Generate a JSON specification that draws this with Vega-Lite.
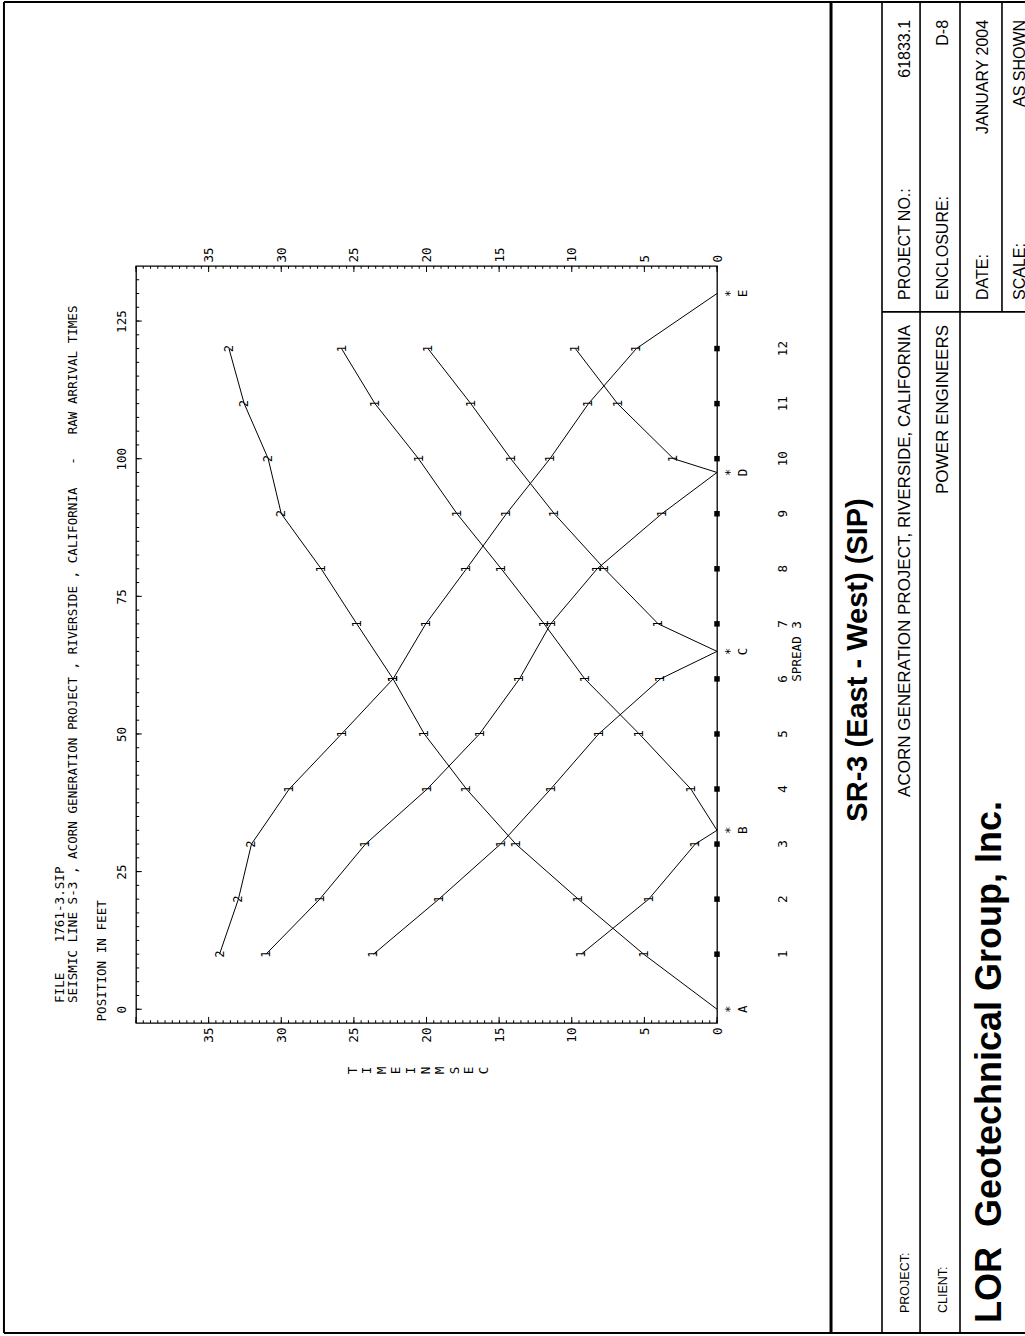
{
"$schema":"https://vega.github.io/schema/vega-lite/v6.json",
"width":581,"height":757,
"autosize":{"type":"none"},
"padding":{"left":136,"top":266,"right":308,"bottom":313},
"background":"white",
"config":{"view":{"stroke":"#000","strokeWidth":1.3}},
"data":{"values":[{}]},
"datasets":{
"arr":[
{"s":"A","p":0,"t":0,"m":""},{"s":"A","p":10,"t":5.05,"m":"1"},{"s":"A","p":20,"t":9.55,"m":"1"},{"s":"A","p":30,"t":13.85,"m":"1"},{"s":"A","p":40,"t":17.25,"m":"1"},{"s":"A","p":50,"t":20.15,"m":"1"},{"s":"A","p":60,"t":22.3,"m":"1"},{"s":"A","p":70,"t":24.8,"m":"1"},{"s":"A","p":80,"t":27.25,"m":"1"},{"s":"A","p":90,"t":30.0,"m":"2"},{"s":"A","p":100,"t":30.9,"m":"2"},{"s":"A","p":110,"t":32.55,"m":"2"},{"s":"A","p":120,"t":33.6,"m":"2"},
{"s":"B","p":10,"t":9.35,"m":"1"},{"s":"B","p":20,"t":4.7,"m":"1"},{"s":"B","p":30,"t":1.5,"m":"1"},{"s":"B","p":32.5,"t":0,"m":""},{"s":"B","p":40,"t":1.8,"m":"1"},{"s":"B","p":50,"t":5.35,"m":"1"},{"s":"B","p":60,"t":9.1,"m":"1"},{"s":"B","p":70,"t":11.9,"m":"1"},{"s":"B","p":80,"t":14.85,"m":"1"},{"s":"B","p":90,"t":17.9,"m":"1"},{"s":"B","p":100,"t":20.55,"m":"1"},{"s":"B","p":110,"t":23.55,"m":"1"},{"s":"B","p":120,"t":25.85,"m":"1"},
{"s":"C","p":10,"t":23.65,"m":"1"},{"s":"C","p":20,"t":19.15,"m":"1"},{"s":"C","p":30,"t":14.9,"m":"1"},{"s":"C","p":40,"t":11.45,"m":"1"},{"s":"C","p":50,"t":8.15,"m":"1"},{"s":"C","p":60,"t":3.9,"m":"1"},{"s":"C","p":65,"t":0,"m":""},{"s":"C","p":70,"t":4.05,"m":"1"},{"s":"C","p":80,"t":7.75,"m":"1"},{"s":"C","p":90,"t":11.2,"m":"1"},{"s":"C","p":100,"t":14.2,"m":"1"},{"s":"C","p":110,"t":16.95,"m":"1"},{"s":"C","p":120,"t":19.9,"m":"1"},
{"s":"D","p":10,"t":31.05,"m":"1"},{"s":"D","p":20,"t":27.35,"m":"1"},{"s":"D","p":30,"t":24.2,"m":"1"},{"s":"D","p":40,"t":19.95,"m":"1"},{"s":"D","p":50,"t":16.35,"m":"1"},{"s":"D","p":60,"t":13.6,"m":"1"},{"s":"D","p":70,"t":11.45,"m":"1"},{"s":"D","p":80,"t":8.25,"m":"1"},{"s":"D","p":90,"t":3.8,"m":"1"},{"s":"D","p":97.5,"t":0,"m":""},{"s":"D","p":100,"t":3.0,"m":"1"},{"s":"D","p":110,"t":6.85,"m":"1"},{"s":"D","p":120,"t":9.75,"m":"1"},
{"s":"E","p":10,"t":34.25,"m":"2"},{"s":"E","p":20,"t":32.95,"m":"2"},{"s":"E","p":30,"t":32.05,"m":"2"},{"s":"E","p":40,"t":29.45,"m":"1"},{"s":"E","p":50,"t":25.85,"m":"1"},{"s":"E","p":60,"t":22.3,"m":"1"},{"s":"E","p":70,"t":20.05,"m":"1"},{"s":"E","p":80,"t":17.25,"m":"1"},{"s":"E","p":90,"t":14.5,"m":"1"},{"s":"E","p":100,"t":11.5,"m":"1"},{"s":"E","p":110,"t":8.85,"m":"1"},{"s":"E","p":120,"t":5.55,"m":"1"},{"s":"E","p":130,"t":0,"m":""}
],
"shots":[{"s":"A","p":0},{"s":"B","p":32.5},{"s":"C","p":65},{"s":"D","p":97.5},{"s":"E","p":130}],
"geo":[{"n":"1","p":10},{"n":"2","p":20},{"n":"3","p":30},{"n":"4","p":40},{"n":"5","p":50},{"n":"6","p":60},{"n":"7","p":70},{"n":"8","p":80},{"n":"9","p":90},{"n":"10","p":100},{"n":"11","p":110},{"n":"12","p":120}],
"tt":[{"t":0},{"t":0.5},{"t":1},{"t":1.5},{"t":2},{"t":2.5},{"t":3},{"t":3.5},{"t":4},{"t":4.5},{"t":5},{"t":5.5},{"t":6},{"t":6.5},{"t":7},{"t":7.5},{"t":8},{"t":8.5},{"t":9},{"t":9.5},{"t":10},{"t":10.5},{"t":11},{"t":11.5},{"t":12},{"t":12.5},{"t":13},{"t":13.5},{"t":14},{"t":14.5},{"t":15},{"t":15.5},{"t":16},{"t":16.5},{"t":17},{"t":17.5},{"t":18},{"t":18.5},{"t":19},{"t":19.5},{"t":20},{"t":20.5},{"t":21},{"t":21.5},{"t":22},{"t":22.5},{"t":23},{"t":23.5},{"t":24},{"t":24.5},{"t":25},{"t":25.5},{"t":26},{"t":26.5},{"t":27},{"t":27.5},{"t":28},{"t":28.5},{"t":29},{"t":29.5},{"t":30},{"t":30.5},{"t":31},{"t":31.5},{"t":32},{"t":32.5},{"t":33},{"t":33.5},{"t":34},{"t":34.5},{"t":35},{"t":35.5},{"t":36},{"t":36.5},{"t":37},{"t":37.5},{"t":38},{"t":38.5},{"t":39},{"t":39.5},{"t":40}],
"pt":[{"p":0},{"p":2.5},{"p":5},{"p":7.5},{"p":10},{"p":12.5},{"p":15},{"p":17.5},{"p":20},{"p":22.5},{"p":25},{"p":27.5},{"p":30},{"p":32.5},{"p":35},{"p":37.5},{"p":40},{"p":42.5},{"p":45},{"p":47.5},{"p":50},{"p":52.5},{"p":55},{"p":57.5},{"p":60},{"p":62.5},{"p":65},{"p":67.5},{"p":70},{"p":72.5},{"p":75},{"p":77.5},{"p":80},{"p":82.5},{"p":85},{"p":87.5},{"p":90},{"p":92.5},{"p":95},{"p":97.5},{"p":100},{"p":102.5},{"p":105},{"p":107.5},{"p":110},{"p":112.5},{"p":115},{"p":117.5},{"p":120},{"p":122.5},{"p":125},{"p":127.5},{"p":130},{"p":132.5}]
},
"layer":[
{"data":{"name":"arr"},"mark":{"type":"line","stroke":"#000","strokeWidth":1},
 "encoding":{
  "x":{"field":"t","type":"quantitative","scale":{"domain":[0,40],"reverse":true,"nice":false,"zero":false},
   "axis":{"orient":"bottom","values":[0,5,10,15,20,25,30,35],"labelAngle":270,"labelAlign":"right","labelBaseline":"middle","labelFont":"DejaVu Sans Mono","labelFontSize":12.6,"labelColor":"#000","labelPadding":4,"labelFlush":false,"labelOverlap":false,"ticks":false,"domain":false,"grid":false,
    "title":["T","I","M","E","\u00a0","I","N","\u00a0","M","S","E","C"],"titleFont":"DejaVu Sans Mono","titleFontSize":12.6,"titleFontWeight":"normal","titleColor":"#000","titleAngle":270,"titleAlign":"center","titleBaseline":"middle","titleLineHeight":14.6,"titleX":216,"titleY":47}},
  "y":{"field":"p","type":"quantitative","scale":{"domain":[-2.5,135],"nice":false,"zero":false},
   "axis":{"orient":"left","values":[0,25,50,75,100,125],"labelAngle":270,"labelAlign":"center","labelBaseline":"bottom","labelFont":"DejaVu Sans Mono","labelFontSize":12.6,"labelColor":"#000","labelPadding":8,"labelFlush":false,"labelOverlap":false,"ticks":false,"domain":false,"grid":false,
    "title":"POSITION IN FEET","titleFont":"DejaVu Sans Mono","titleFontSize":12.6,"titleFontWeight":"normal","titleColor":"#000","titleAngle":270,"titleAlign":"left","titleBaseline":"middle","titleX":-35,"titleY":755}},
  "detail":{"field":"s"},
  "order":{"field":"p","type":"quantitative"}}},
{"data":{"name":"arr"},"transform":[{"filter":"datum.m != ''"}],
 "mark":{"type":"text","angle":270,"font":"DejaVu Sans Mono","fontSize":12,"align":"center","baseline":"middle","color":"#000"},
 "encoding":{
  "x":{"field":"t","type":"quantitative","axis":{"orient":"top","values":[0,5,10,15,20,25,30,35],"labelAngle":270,"labelAlign":"left","labelBaseline":"middle","labelFont":"DejaVu Sans Mono","labelFontSize":12.6,"labelColor":"#000","labelPadding":4,"labelFlush":false,"labelOverlap":false,"ticks":false,"domain":false,"grid":false,"title":null}},
  "y":{"field":"p","type":"quantitative","axis":null},
  "text":{"field":"m"}}},
{"data":{"name":"geo"},"mark":{"type":"square","filled":true,"color":"#000","size":30,"opacity":1},
 "encoding":{"x":{"datum":0,"type":"quantitative","axis":null},"y":{"field":"p","type":"quantitative","axis":null}}},
{"data":{"name":"geo"},"mark":{"type":"text","angle":270,"font":"DejaVu Sans Mono","fontSize":12.6,"align":"center","baseline":"middle","color":"#000"},
 "encoding":{"x":{"datum":-4.54,"type":"quantitative","axis":null},"y":{"field":"p","type":"quantitative","axis":null},"text":{"field":"n"}}},
{"data":{"name":"shots"},"mark":{"type":"text","text":"*","angle":270,"font":"DejaVu Sans Mono","fontSize":12.6,"align":"center","baseline":"middle","color":"#000"},
 "encoding":{"x":{"datum":-0.9,"type":"quantitative","axis":null},"y":{"field":"p","type":"quantitative","axis":null}}},
{"data":{"name":"shots"},"mark":{"type":"text","angle":270,"font":"DejaVu Sans Mono","fontSize":12.6,"align":"center","baseline":"middle","color":"#000"},
 "encoding":{"x":{"datum":-1.8,"type":"quantitative","axis":null},"y":{"field":"p","type":"quantitative","axis":null},"text":{"field":"s"}}},
{"mark":{"type":"text","text":"SPREAD 3","angle":270,"font":"DejaVu Sans Mono","fontSize":12.6,"align":"center","baseline":"middle","color":"#000"},
 "encoding":{"x":{"datum":-5.51,"type":"quantitative","axis":null},"y":{"datum":65,"type":"quantitative","axis":null}}},
{"data":{"name":"tt"},"mark":{"type":"rule","stroke":"#000","strokeWidth":1},
 "encoding":{"x":{"field":"t","type":"quantitative","axis":null},"y":{"datum":-2.5,"type":"quantitative","axis":null},"y2":{"datum":-2.0}}},
{"data":{"name":"tt"},"transform":[{"filter":"datum.t % 5 == 0"}],"mark":{"type":"rule","stroke":"#000","strokeWidth":1},
 "encoding":{"x":{"field":"t","type":"quantitative","axis":null},"y":{"datum":-2.5,"type":"quantitative","axis":null},"y2":{"datum":-1.4}}},
{"data":{"name":"tt"},"mark":{"type":"rule","stroke":"#000","strokeWidth":1},
 "encoding":{"x":{"field":"t","type":"quantitative","axis":null},"y":{"datum":135,"type":"quantitative","axis":null},"y2":{"datum":134.5}}},
{"data":{"name":"tt"},"transform":[{"filter":"datum.t % 5 == 0"}],"mark":{"type":"rule","stroke":"#000","strokeWidth":1},
 "encoding":{"x":{"field":"t","type":"quantitative","axis":null},"y":{"datum":135,"type":"quantitative","axis":null},"y2":{"datum":133.9}}},
{"data":{"name":"pt"},"mark":{"type":"rule","stroke":"#000","strokeWidth":1},
 "encoding":{"y":{"field":"p","type":"quantitative","axis":null},"x":{"datum":40,"type":"quantitative","axis":null},"x2":{"datum":39.78}}},
{"data":{"name":"pt"},"transform":[{"filter":"datum.p % 25 == 0"}],"mark":{"type":"rule","stroke":"#000","strokeWidth":1},
 "encoding":{"y":{"field":"p","type":"quantitative","axis":null},"x":{"datum":40,"type":"quantitative","axis":null},"x2":{"datum":39.6}}},
{"mark":{"type":"text","text":"FILE\u00a0\u00a0\u00a0\u00a01761-3.SIP","angle":270,"font":"DejaVu Sans Mono","fontSize":12.6,"align":"left","baseline":"middle","color":"#000"},
 "encoding":{"x":{"datum":45.23,"type":"quantitative","axis":null},"y":{"datum":1.13,"type":"quantitative","axis":null}}},
{"mark":{"type":"text","text":"SEISMIC LINE S-3 , ACORN GENERATION PROJECT , RIVERSIDE , CALIFORNIA\u00a0\u00a0\u00a0-\u00a0\u00a0\u00a0RAW ARRIVAL TIMES","angle":270,"font":"DejaVu Sans Mono","fontSize":12.6,"align":"left","baseline":"middle","color":"#000"},
 "encoding":{"x":{"datum":44.34,"type":"quantitative","axis":null},"y":{"datum":1.13,"type":"quantitative","axis":null}}},
{"mark":{"type":"rule","stroke":"#000","strokeWidth":2},"encoding":{"x":{"datum":49.09,"type":"quantitative","axis":null},"y":{"datum":182.97,"type":"quantitative","axis":null},"y2":{"datum":-58.81}}},
{"mark":{"type":"rule","stroke":"#000","strokeWidth":2},"encoding":{"y":{"datum":182.97,"type":"quantitative","axis":null},"x":{"datum":49.09,"type":"quantitative","axis":null},"x2":{"datum":-21.6}}},
{"mark":{"type":"rule","stroke":"#000","strokeWidth":2},"encoding":{"y":{"datum":-58.81,"type":"quantitative","axis":null},"x":{"datum":49.09,"type":"quantitative","axis":null},"x2":{"datum":-21.6}}},
{"mark":{"type":"rule","stroke":"#000","strokeWidth":3},"encoding":{"x":{"datum":-7.85,"type":"quantitative","axis":null},"y":{"datum":182.97,"type":"quantitative","axis":null},"y2":{"datum":-58.81}}},
{"mark":{"type":"rule","stroke":"#000","strokeWidth":1.6},"encoding":{"x":{"datum":-11.36,"type":"quantitative","axis":null},"y":{"datum":182.97,"type":"quantitative","axis":null},"y2":{"datum":-58.81}}},
{"mark":{"type":"rule","stroke":"#000","strokeWidth":1.6},"encoding":{"x":{"datum":-13.98,"type":"quantitative","axis":null},"y":{"datum":182.97,"type":"quantitative","axis":null},"y2":{"datum":-58.81}}},
{"mark":{"type":"rule","stroke":"#000","strokeWidth":1.6},"encoding":{"x":{"datum":-16.73,"type":"quantitative","axis":null},"y":{"datum":182.97,"type":"quantitative","axis":null},"y2":{"datum":-58.81}}},
{"mark":{"type":"rule","stroke":"#000","strokeWidth":1.6},"encoding":{"x":{"datum":-19.62,"type":"quantitative","axis":null},"y":{"datum":182.97,"type":"quantitative","axis":null},"y2":{"datum":126.66}}},
{"mark":{"type":"rule","stroke":"#000","strokeWidth":1.6},"encoding":{"y":{"datum":126.66,"type":"quantitative","axis":null},"x":{"datum":-11.36,"type":"quantitative","axis":null},"x2":{"datum":-21.6}}},
{"mark":{"type":"text","text":"SR-3 (East - West) (SIP)","angle":270,"font":"Liberation Sans","fontWeight":"bold","fontSize":29,"align":"center","baseline":"middle","color":"#000"},
 "encoding":{"x":{"datum":-9.71,"type":"quantitative","axis":null},"y":{"datum":63.44,"type":"quantitative","axis":null}}},
{"mark":{"type":"text","text":"PROJECT:","angle":270,"font":"Liberation Sans","fontSize":12.5,"align":"left","baseline":"middle","color":"#000"},
 "encoding":{"x":{"datum":-12.94,"type":"quantitative","axis":null},"y":{"datum":-55.18,"type":"quantitative","axis":null}}},
{"mark":{"type":"text","text":"ACORN GENERATION PROJECT, RIVERSIDE, CALIFORNIA","angle":270,"font":"Liberation Sans","fontSize":17,"align":"right","baseline":"middle","color":"#000"},
 "encoding":{"x":{"datum":-12.94,"type":"quantitative","axis":null},"y":{"datum":124.29,"type":"quantitative","axis":null}}},
{"mark":{"type":"text","text":"CLIENT:","angle":270,"font":"Liberation Sans","fontSize":12.5,"align":"left","baseline":"middle","color":"#000"},
 "encoding":{"x":{"datum":-15.56,"type":"quantitative","axis":null},"y":{"datum":-55.18,"type":"quantitative","axis":null}}},
{"mark":{"type":"text","text":"POWER ENGINEERS","angle":270,"font":"Liberation Sans","fontSize":17,"align":"right","baseline":"middle","color":"#000"},
 "encoding":{"x":{"datum":-15.56,"type":"quantitative","axis":null},"y":{"datum":124.29,"type":"quantitative","axis":null}}},
{"mark":{"type":"text","text":"LOR\u00a0\u00a0Geotechnical Group, Inc.","angle":270,"font":"Liberation Sans","fontWeight":"bold","fontSize":36,"align":"left","baseline":"middle","color":"#000"},
 "encoding":{"x":{"datum":-18.8,"type":"quantitative","axis":null},"y":{"datum":-57.0,"type":"quantitative","axis":null}}},
{"mark":{"type":"text","text":"PROJECT NO.:","angle":270,"font":"Liberation Sans","fontSize":16,"align":"left","baseline":"middle","color":"#000"},
 "encoding":{"x":{"datum":-12.94,"type":"quantitative","axis":null},"y":{"datum":128.83,"type":"quantitative","axis":null}}},
{"mark":{"type":"text","text":"61833.1","angle":270,"font":"Liberation Sans","fontSize":16,"align":"right","baseline":"middle","color":"#000"},
 "encoding":{"x":{"datum":-12.94,"type":"quantitative","axis":null},"y":{"datum":179.7,"type":"quantitative","axis":null}}},
{"mark":{"type":"text","text":"ENCLOSURE:","angle":270,"font":"Liberation Sans","fontSize":16,"align":"left","baseline":"middle","color":"#000"},
 "encoding":{"x":{"datum":-15.56,"type":"quantitative","axis":null},"y":{"datum":128.83,"type":"quantitative","axis":null}}},
{"mark":{"type":"text","text":"D-8","angle":270,"font":"Liberation Sans","fontSize":16,"align":"right","baseline":"middle","color":"#000"},
 "encoding":{"x":{"datum":-15.56,"type":"quantitative","axis":null},"y":{"datum":179.7,"type":"quantitative","axis":null}}},
{"mark":{"type":"text","text":"DATE:","angle":270,"font":"Liberation Sans","fontSize":16,"align":"left","baseline":"middle","color":"#000"},
 "encoding":{"x":{"datum":-18.31,"type":"quantitative","axis":null},"y":{"datum":128.83,"type":"quantitative","axis":null}}},
{"mark":{"type":"text","text":"JANUARY 2004","angle":270,"font":"Liberation Sans","fontSize":16,"align":"right","baseline":"middle","color":"#000"},
 "encoding":{"x":{"datum":-18.31,"type":"quantitative","axis":null},"y":{"datum":179.7,"type":"quantitative","axis":null}}},
{"mark":{"type":"text","text":"SCALE:","angle":270,"font":"Liberation Sans","fontSize":16,"align":"left","baseline":"middle","color":"#000"},
 "encoding":{"x":{"datum":-20.85,"type":"quantitative","axis":null},"y":{"datum":128.83,"type":"quantitative","axis":null}}},
{"mark":{"type":"text","text":"AS SHOWN","angle":270,"font":"Liberation Sans","fontSize":16,"align":"right","baseline":"middle","color":"#000"},
 "encoding":{"x":{"datum":-20.85,"type":"quantitative","axis":null},"y":{"datum":179.7,"type":"quantitative","axis":null}}}
],
"resolve":{"axis":{"x":"independent","y":"independent"}}
}
